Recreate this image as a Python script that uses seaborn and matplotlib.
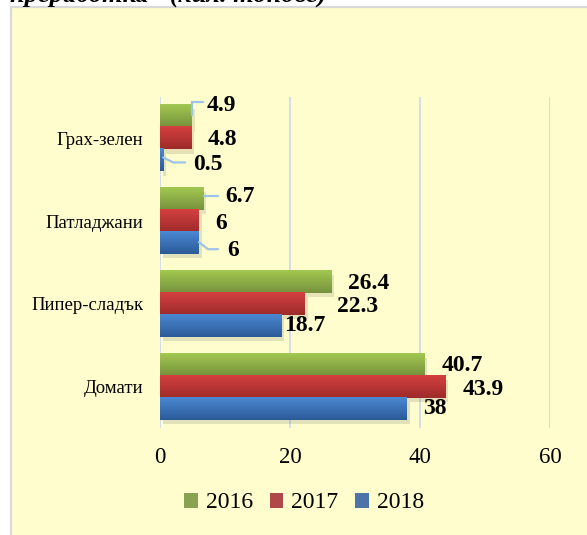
import matplotlib
matplotlib.use("Agg")
import matplotlib.pyplot as plt
import matplotlib.patheffects as pe
from matplotlib.patches import Rectangle
from matplotlib.colors import LinearSegmentedColormap
import numpy as np
import pandas as pd
import seaborn as sns

# data
crops = ["Грах-зелен", "Патладжани", "Пипер-сладък", "Домати"]
years = ["2016", "2017", "2018"]
v2016 = [4.9, 6.7, 26.4, 40.7]
v2017 = [4.8, 6, 22.3, 43.9]
v2018 = [0.5, 6, 18.7, 38]
x_ticks = [0, 20, 40, 60]

df = pd.DataFrame({
    "crop": crops * 3,
    "year": np.repeat(years, len(crops)),
    "value": v2016 + v2017 + v2018,
})

# styling
bar_mid = {"2016": "#8CAF45", "2017": "#C03838", "2018": "#3C72BA"}
bar_grad = {
    "2016": ("#A3C852", "#76923C"),
    "2017": ("#D4403F", "#9E2B2B"),
    "2018": ("#4B89D3", "#2C5A98"),
}
grid_col = "#C9DAF0"
leader_col = "#9DC3E6"
bg_col = "#FFFDCD"

# label placement in pixels from bar end / bar centre (right, down), as in the original
label_nudge = {
    "2016": [(15, -11), (22, -3), (16, 2), (17, 1)],
    "2017": [(16, 1), (16, 2), (32, 3), (17, 3)],
    "2018": [(30, 4), (28, 7), (3, 0), (16, 0)],
}
leaders = {
    ("2016", 0): [(0, -1), (0, -14), (11, -14)],
    ("2018", 0): [(0, -3), (10, 2), (22, 2)],
    ("2016", 1): [(0, -3), (14, -3)],
    ("2018", 1): [(0, -1), (9, 6), (19, 6)],
}

sns.set_style("white")
plt.rcParams["font.family"] = ["Liberation Serif", "DejaVu Serif"]
plt.rcParams["text.color"] = "black"
plt.rcParams["xtick.color"] = "black"
plt.rcParams["ytick.color"] = "black"

fig = plt.figure(figsize=(5.87, 5.35), dpi=100)
fig.patch.set_facecolor("white")
fig.patches.append(Rectangle((11 / 587, -0.01), 1.0, 1 - 7 / 535 + 0.01,
                             transform=fig.transFigure, facecolor=bg_col,
                             edgecolor="#D9D9D9", lw=1.6, zorder=-5))
fig.text(10 / 587, 1 - 2 / 535, "преработка\" (хил. тонове)", fontsize=19,
         fontweight="bold", fontstyle="italic", ha="left", va="baseline")

ax = fig.add_axes([160 / 587, 1 - 428 / 535, 390 / 587, 331 / 535])
ax.set_facecolor("none")

sns.barplot(data=df, y="crop", x="value", hue="year", orient="h",
            palette=bar_mid, width=0.8, ax=ax, legend=True, zorder=2,
            edgecolor="none")

ax.set_xlim(0, 60)
ax.set_ylim(3.5, -0.5)
ax.set_xticks(x_ticks)
ax.set_xlabel("")
ax.set_ylabel("")
ax.grid(axis="x", color=grid_col, lw=1.2, zorder=0)
ax.set_axisbelow(True)
for s in ax.spines.values():
    s.set_visible(False)
ax.tick_params(axis="x", length=0, pad=14, labelsize=16.5)
ax.tick_params(axis="y", length=0, pad=12, labelsize=13.5)

# gradient fill on each bar + soft shadow
for year, cont in zip(years, ax.containers):
    cmap = LinearSegmentedColormap.from_list(year, bar_grad[year])
    grad = np.linspace(0, 1, 64).reshape(-1, 1)
    for p in cont.patches:
        p.set_path_effects([pe.SimplePatchShadow(offset=(2, -3), alpha=0.12),
                            pe.Normal()])
        x0, y0 = p.get_x(), p.get_y()
        w, h = p.get_width(), p.get_height()
        ax.imshow(grad, cmap=cmap, aspect="auto", origin="upper",
                  extent=(x0, x0 + w, y0 + h, y0), zorder=3)
ax.set_xlim(0, 60)
ax.set_ylim(3.5, -0.5)

# value labels and leader lines
to_px = ax.transData
from_px = ax.transData.inverted()
for year, vals, cont in zip(years, [v2016, v2017, v2018], ax.containers):
    for i, (v, p) in enumerate(zip(vals, cont.patches)):
        yc = p.get_y() + p.get_height() / 2
        dx, dy = label_nudge[year][i]
        ax.annotate(f"{v:g}", xy=(v, yc), xytext=(dx * 0.72, -dy * 0.72),
                    textcoords="offset points", ha="left", va="center",
                    fontsize=17, fontweight="bold", color="black", zorder=5)
        if (year, i) in leaders:
            bx, by = to_px.transform((v, yc))
            pts = [from_px.transform((bx + ox, by - oy)) for ox, oy in leaders[(year, i)]]
            pts = np.array(pts)
            ax.plot(pts[:, 0], pts[:, 1], color=leader_col, lw=1.6, zorder=4,
                    solid_joinstyle="miter")

handles, labels = ax.get_legend_handles_labels()
ax.get_legend().remove()
fig.legend(handles, labels, loc="center", bbox_to_anchor=(0.518, 1 - 503 / 535),
           ncol=3, frameon=False, fontsize=17, handlelength=0.58,
           handleheight=0.58, handletextpad=0.35, columnspacing=0.7)

fig.savefig("out.png", dpi=100)
